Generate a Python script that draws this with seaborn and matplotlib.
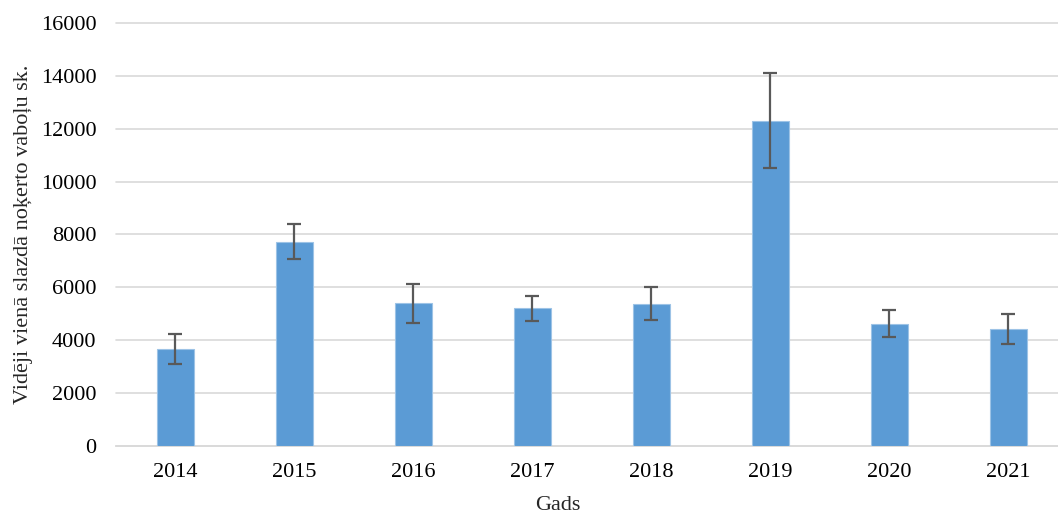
import matplotlib
matplotlib.use("Agg")
import matplotlib.pyplot as plt
import seaborn as sns
import pandas as pd

# dati
years = ["2014", "2015", "2016", "2017", "2018", "2019", "2020", "2021"]
means = [3660, 7730, 5390, 5200, 5380, 12310, 4630, 4420]
errs = [560, 660, 740, 470, 630, 1790, 510, 555]

sns.set_style("white")
plt.rcParams['font.family'] = ['Liberation Serif', 'DejaVu Serif']

df = pd.DataFrame({"Gads": years, "val": means})

fig = plt.figure(figsize=(10.58, 5.16), dpi=100)
ax = fig.add_axes([0.1096, 0.1357, 0.8998, 0.8198])

sns.barplot(data=df, x="Gads", y="val", color="#5B9BD5", width=0.31,
            edgecolor="#9DC3E6", linewidth=0.8, saturation=1, ax=ax, zorder=3)
ax.errorbar(range(len(years)), means, yerr=errs, fmt="none", ecolor="#595959",
            elinewidth=1.6, capsize=5, capthick=1.6, zorder=4)

ax.set_xlim(-0.5, len(years) - 0.5)
ax.set_ylim(0, 16000)
ax.set_yticks(range(0, 16001, 2000))
ax.yaxis.grid(True, color="#D9D9D9", linewidth=1.2, zorder=0)
for gl in ax.get_ygridlines():
    gl.set_clip_on(False)
ax.set_axisbelow(True)
for s in ["left", "right", "top"]:
    ax.spines[s].set_visible(False)
ax.spines["bottom"].set_color("#D9D9D9")
ax.spines["bottom"].set_linewidth(1.2)
ax.tick_params(axis="both", length=0, labelsize=16, colors="black")
ax.tick_params(axis="y", pad=14)
ax.tick_params(axis="x", pad=12)
ax.set_xlabel("Gads", fontsize=16)
ax.xaxis.set_label_coords(0.464, -0.118)
ax.set_ylabel("Vidēji vienā slazdā noķerto vaboļu sk.", fontsize=16, labelpad=6)

fig.savefig("out.png", dpi=100)
